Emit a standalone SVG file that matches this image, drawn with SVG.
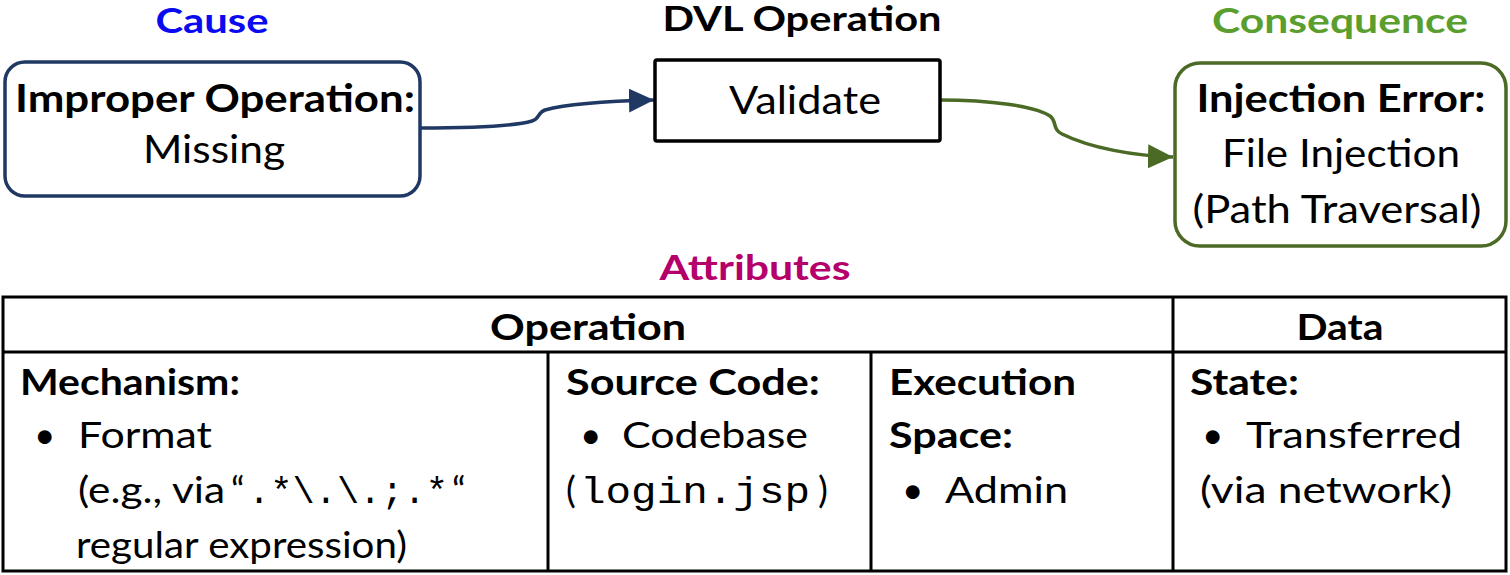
<svg xmlns="http://www.w3.org/2000/svg" width="1510" height="575" viewBox="0 0 1510 575">
<style>
text{font-family:Lato,"Open Sans","Liberation Sans",sans-serif;fill:#000}
.b{font-weight:bold}
.t{font-size:34px;font-weight:bold}
.n{font-size:39px}
.c{font-size:37px}
.m{font-family:"Liberation Mono","DejaVu Sans Mono",monospace}
.grid{stroke:#000;stroke-width:3;fill:none}
</style>
<defs>
<marker id="aB" markerUnits="userSpaceOnUse" markerWidth="26" markerHeight="26" refX="25" refY="12" orient="auto"><path d="M0,0 L25,12 L0,24 Z" fill="#203864"/></marker>
<marker id="aG" markerUnits="userSpaceOnUse" markerWidth="26" markerHeight="26" refX="25" refY="12" orient="auto"><path d="M0,0 L25,12 L0,24 Z" fill="#4B6A25"/></marker>
</defs>
<rect width="1510" height="575" fill="#fff"/>

<g id="titles">
<text class="t" x="212" y="33" text-anchor="middle" style="fill:#0A0AF0" textLength="113" lengthAdjust="spacingAndGlyphs">Cause</text>
<text class="t" x="802" y="31" text-anchor="middle" textLength="279" lengthAdjust="spacingAndGlyphs">DVL Operation</text>
<text class="t" x="1340" y="33" text-anchor="middle" style="fill:#5A9E2E" textLength="256" lengthAdjust="spacingAndGlyphs">Consequence</text>
<text class="t" x="755" y="280" text-anchor="middle" style="fill:#B5006C" textLength="191" lengthAdjust="spacingAndGlyphs">Attributes</text>
</g>

<g id="connectors" fill="none" stroke-width="3.5">
<path d="M420,128 C470,128 515,126 532,121 C540,119 537,113 545,110 C570,103 610,101 654,100" stroke="#203864" marker-end="url(#aB)"/>
<path d="M940,100 C990,100 1035,106 1050,116 C1057,121 1052,129 1062,134 C1090,148 1135,156 1173,157" stroke="#4B6A25" marker-end="url(#aG)"/>
</g>

<g id="cause">
<rect x="5" y="62" width="415" height="134" rx="20" fill="#fff" stroke="#203864" stroke-width="3.5"/>
<text class="n b" x="215" y="112" text-anchor="middle" textLength="400" lengthAdjust="spacingAndGlyphs">Improper Operation:</text>
<text class="n" x="214" y="163" text-anchor="middle" textLength="142" lengthAdjust="spacingAndGlyphs">Missing</text>
</g>

<g id="validate">
<rect x="655" y="60" width="285" height="81" rx="2" fill="#fff" stroke="#000" stroke-width="3.5"/>
<text class="n" x="805" y="114" text-anchor="middle" textLength="152" lengthAdjust="spacingAndGlyphs">Validate</text>
</g>

<g id="consequence">
<rect x="1175" y="63" width="331" height="183" rx="25" fill="#fff" stroke="#4B6A25" stroke-width="3.5"/>
<text class="n b" x="1341" y="112" text-anchor="middle" textLength="289" lengthAdjust="spacingAndGlyphs">Injection Error:</text>
<text class="n" x="1341" y="167" text-anchor="middle" textLength="238" lengthAdjust="spacingAndGlyphs">File Injection</text>
<text class="n" x="1337" y="223" text-anchor="middle" textLength="289" lengthAdjust="spacingAndGlyphs">(Path Traversal)</text>
</g>

<g id="table">
<rect x="3" y="297" width="1503" height="274" class="grid"/>
<line x1="3" y1="352" x2="1506" y2="352" class="grid"/>
<line x1="1173" y1="297" x2="1173" y2="571" class="grid"/>
<line x1="548" y1="352" x2="548" y2="571" class="grid"/>
<line x1="871" y1="352" x2="871" y2="571" class="grid"/>
</g>

<g id="header-operation"><text class="c b" x="588" y="340" text-anchor="middle" textLength="196" lengthAdjust="spacingAndGlyphs">Operation</text></g>
<g id="header-data"><text class="c b" x="1340" y="340" text-anchor="middle" textLength="87" lengthAdjust="spacingAndGlyphs">Data</text></g>

<g id="mechanism">
<text class="c b" x="20" y="395" textLength="220" lengthAdjust="spacingAndGlyphs">Mechanism:</text>
<text class="c" x="34" y="448">•</text>
<text class="c" x="78" y="448" textLength="134" lengthAdjust="spacingAndGlyphs">Format</text>
<text class="c" x="78" y="503" textLength="147" lengthAdjust="spacingAndGlyphs">(e.g., via</text>
<text class="c" x="231" y="503">“</text>
<text class="c m" x="248" y="503" textLength="200" lengthAdjust="spacingAndGlyphs">.*\.\.;.*</text>
<text class="c" x="452" y="503">“</text>
<text class="c" x="76" y="558" textLength="331" lengthAdjust="spacingAndGlyphs">regular expression)</text>
</g>

<g id="source-code">
<text class="c b" x="566" y="395" textLength="254" lengthAdjust="spacingAndGlyphs">Source Code:</text>
<text class="c" x="580" y="448">•</text>
<text class="c" x="622" y="448" textLength="186" lengthAdjust="spacingAndGlyphs">Codebase</text>
<text class="c" x="566" y="503">(</text>
<text class="c m" x="580" y="503" textLength="230" lengthAdjust="spacingAndGlyphs">login.jsp</text>
<text class="c" x="818" y="503">)</text>
</g>

<g id="execution-space">
<text class="c b" x="889" y="395" textLength="187" lengthAdjust="spacingAndGlyphs">Execution</text>
<text class="c b" x="889" y="448" textLength="124" lengthAdjust="spacingAndGlyphs">Space:</text>
<text class="c" x="902" y="503">•</text>
<text class="c" x="945" y="503" textLength="123" lengthAdjust="spacingAndGlyphs">Admin</text>
</g>

<g id="state">
<text class="c b" x="1190" y="395" textLength="109" lengthAdjust="spacingAndGlyphs">State:</text>
<text class="c" x="1202" y="448">•</text>
<text class="c" x="1246" y="448" textLength="216" lengthAdjust="spacingAndGlyphs">Transferred</text>
<text class="c" x="1200" y="503" textLength="252" lengthAdjust="spacingAndGlyphs">(via network)</text>
</g>
</svg>
